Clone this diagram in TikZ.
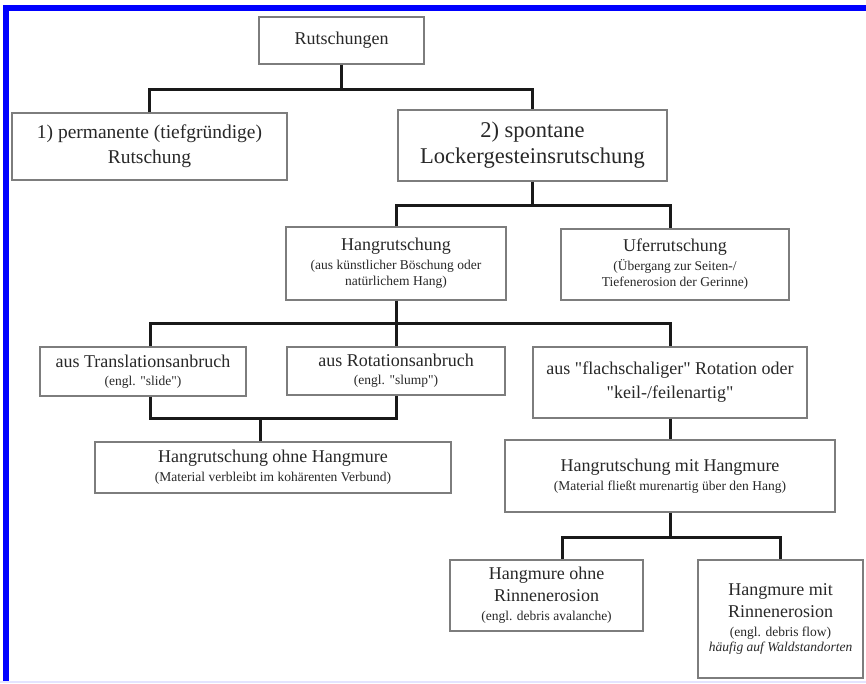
\documentclass[tikz,border=0pt]{standalone}
\usepackage{fontspec}
\setmainfont{Liberation Serif}[Ligatures=TeXOff]
\usetikzlibrary{calc}
\definecolor{frameblue}{RGB}{0,0,255}
\definecolor{framelav}{RGB}{228,228,255}
\definecolor{boxline}{RGB}{125,125,125}
\definecolor{txt}{RGB}{40,40,40}
\newcommand{\smtext}[1]{{\fontsize{13.5}{16}\selectfont #1}}
\begin{document}
\begin{tikzpicture}[x=1pt,y=-1pt,
  box/.style={draw=boxline, line width=1.3pt, fill=white, align=center, inner sep=0pt,
    text=txt, font=\fontsize{18}{22}\selectfont},
  conn/.style={line width=3pt, draw=black!90}]
\useasboundingbox (0,0) rectangle (866,683);
\fill[white] (0,0) rectangle (866,683);
\fill[frameblue] (3,5) rectangle (866,11);
\fill[frameblue] (3,5) rectangle (9,683);
\fill[framelav] (0,681) rectangle (866,683);

% boxes
\node[box, minimum width=165pt, minimum height=47pt] (R) at (341.5,40.5) {Rutschungen};
\node[box, font=\fontsize{19.5}{25}\selectfont, minimum width=275pt, minimum height=67pt] (P1) at (149.5,146.5)
  {1) permanente (tiefgründige)\\Rutschung};
\node[box, font=\fontsize{22.5}{26}\selectfont, minimum width=269pt, minimum height=71pt] (P2) at (532.5,145.5)
  {2) spontane\\Lockergesteinsrutschung};
\node[box, minimum width=220pt, minimum height=73pt] (H) at (396,263.5)
  {Hangrutschung\\[-3pt]\smtext{(aus künstlicher Böschung oder}\\[-6pt]\smtext{natürlichem Hang)}};
\node[box, minimum width=228pt, minimum height=71pt] (U) at (675,264.5)
  {Uferrutschung\\[-3pt]\smtext{(Übergang zur Seiten-/}\\[-6pt]\smtext{Tiefenerosion der Gerinne)}};
\node[box, minimum width=206pt, minimum height=49pt] (T) at (143,371.5)
  {aus Translationsanbruch\\[-4pt]\smtext{(engl. "slide")}};
\node[box, minimum width=218pt, minimum height=48pt] (Rot) at (396,371)
  {aus Rotationsanbruch\\[-4pt]\smtext{(engl. "slump")}};
\node[box, minimum width=274pt, minimum height=71pt] (F) at (670,382.5)
  {aus "flachschaliger" Rotation oder\\[2pt]"keil-/feilenartig"};
\node[box, minimum width=356pt, minimum height=51pt] (O) at (273,467.5)
  {Hangrutschung ohne Hangmure\\[-3pt]\smtext{(Material verbleibt im kohärenten Verbund)}};
\node[box, minimum width=330pt, minimum height=72pt] (M) at (670,476)
  {Hangrutschung mit Hangmure\\[-3pt]\smtext{(Material fließt murenartig über den Hang)}};
\node[box, minimum width=193pt, minimum height=71pt] (HO) at (546.5,595.5)
  {Hangmure ohne\\Rinnenerosion\\[-3pt]\smtext{(engl. debris avalanche)}};
\node[box, minimum width=165pt, minimum height=118pt] (HM) at (780.5,619)
  {Hangmure mit\\Rinnenerosion\\[-3pt]\smtext{(engl. debris flow)}\\[-7pt]\smtext{\itshape häufig auf Waldstandorten}};

% connectors
\coordinate (j1) at (341.5,89);
\draw[conn] (R.south) -- (j1);
\draw[conn] (P1.north) |- (j1) -| (P2.north);

\coordinate (j2) at (532.5,205);
\draw[conn] (P2.south) -- (j2);
\coordinate (uIn) at ($(U.north)+(-5,0)$);
\draw[conn] (H.north) |- (j2) -| (uIn);

\coordinate (j3) at (396,323);
\draw[conn] (H.south) -- (j3);
\coordinate (tIn) at ($(T.north)+(7,0)$);
\draw[conn] (tIn) |- (j3) -| (F.north);
\draw[conn] (j3) -- (Rot.north);

\coordinate (tOut) at ($(T.south)+(7,0)$);
\coordinate (j4) at (260,418);
\draw[conn] (tOut) |- (j4) -| (Rot.south);
\coordinate (oIn) at (j4 |- O.north);
\draw[conn] (j4) -- (oIn);

\draw[conn] (F.south) -- (M.north);

\coordinate (j5) at (670,537);
\draw[conn] (M.south) -- (j5);
\coordinate (hoIn) at ($(HO.north)+(15.5,0)$);
\draw[conn] (hoIn) |- (j5) -| (HM.north);
\end{tikzpicture}
\end{document}
